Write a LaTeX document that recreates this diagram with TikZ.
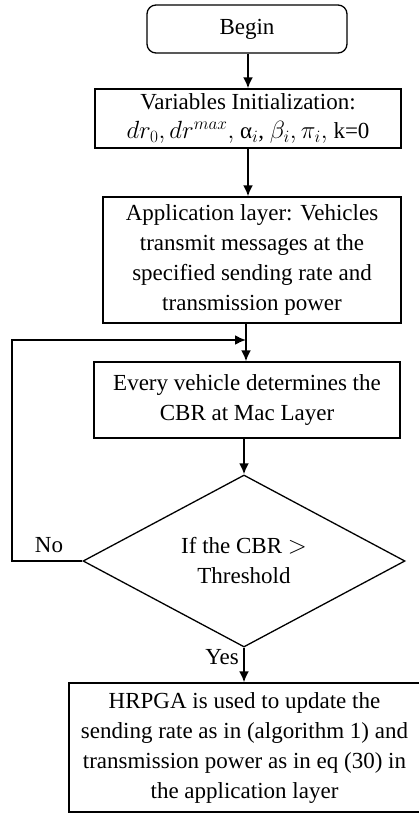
\documentclass[tikz,border=0pt]{standalone}
\usepackage{fontspec}
\setmainfont{Liberation Serif}
\usetikzlibrary{shapes.geometric,arrows.meta}
\begin{document}
\begin{tikzpicture}[x=1pt,y=-1pt,
  every node/.style={font=\fontsize{23}{30}\selectfont, align=center, inner sep=0pt},
  procbox/.style={draw, line width=1.3pt, rectangle},
  conn/.style={line width=2pt, -{Latex[length=11pt,width=10pt]}},
  plain/.style={line width=2pt}]
\useasboundingbox (0,0) rectangle (419,813);
\node[procbox, rounded corners=9pt, minimum width=200pt, minimum height=48pt] (begin) at (247,29) {Begin};
\node[procbox, minimum width=306pt, minimum height=59pt] (init) at (248,118.5)
  {Variables Initialization:\\[-1pt] $dr_0, dr^{max},$ α$_i$, $\beta_i, \pi_i,$ k=0};
\node[procbox, minimum width=298pt, minimum height=126pt] (app) at (252,260)
  {Application layer: Vehicles\\ transmit messages at the\\ specified sending rate and\\ transmission power};
\node[procbox, minimum width=306pt, minimum height=76pt] (every) at (247,400)
  {Every vehicle determines the\\ CBR at Mac Layer};
\node[draw, line width=1.3pt, diamond, minimum width=322pt, minimum height=171pt] (dec) at (244,561)
  {If the CBR $>$\\ Threshold};
\node[procbox, minimum width=351pt, minimum height=129pt] (final) at (244.5,747.5)
  {HRPGA is used to update the\\ sending rate as in (algorithm 1) and\\ transmission power as in eq (30) in\\ the application layer};
\coordinate (lc) at (12,561);
\coordinate (lt) at (12,340);
\coordinate (jn) at (246,340);
\draw[conn] (begin.south -| 248,0) -- (init.north -| 248,0);
\draw[conn] (init.south -| 248,0) -- (app.north -| 248,0);
\draw[conn] (app.south -| jn) -- (every.north -| jn);
\draw[conn] (dec.west) -- (lc) -- (lt) -- (jn);
\draw[conn] (every.south -| dec.north) -- (dec.north);
\draw[conn] (dec.south) -- (final.north -| dec.south);
\node (no) at (49,545) {No};
\node (yes) at (222,657) {Yes};
\end{tikzpicture}
\end{document}
